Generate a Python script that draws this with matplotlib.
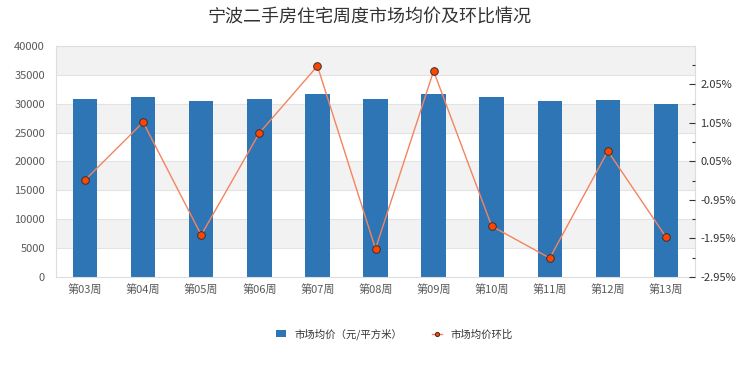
import numpy as np
import matplotlib
matplotlib.use('Agg')
import matplotlib.pyplot as plt
from matplotlib.ticker import FixedLocator, FuncFormatter

plt.rcParams['font.family'] = ['Noto Sans CJK SC', 'DejaVu Sans']

weeks = ['第03周', '第04周', '第05周', '第06周', '第07周', '第08周',
         '第09周', '第10周', '第11周', '第12周', '第13周']
avg_price = [30800, 31200, 30500, 30800, 31700, 30800, 31700, 31200, 30500, 30600, 30000]
mom_pct = [-0.43, 1.07, -1.86, 0.79, 2.53, -2.22, 2.40, -1.63, -2.46, 0.32, -1.91]

bar_color = '#2e75b6'
line_color = '#f4845f'
text_color = '#595959'

fig = plt.figure(figsize=(7.4, 3.7), dpi=100, facecolor='white')
ax = fig.add_axes([0.0757, 0.2514, 0.8635, 0.6243])
x = np.arange(len(weeks))

# alternating grey bands
for lo in range(5000, 40000, 10000):
    ax.axhspan(lo, lo + 5000, color='#f2f2f2', zorder=0, lw=0)
for y in range(5000, 40001, 5000):
    ax.axhline(y, color='#e3e3e3', lw=0.8, zorder=0.5)

ax.bar(x, avg_price, width=0.42, color=bar_color, zorder=2, label='市场均价（元/平方米）')
ax.set_xlim(-0.5, len(weeks) - 0.5)
ax.set_ylim(0, 40000)
ax.set_yticks(range(0, 40001, 5000))
ax.set_xticks(x)
ax.set_xticklabels(weeks)
ax.tick_params(axis='y', length=0, labelsize=8, labelcolor=text_color, pad=8)
ax.tick_params(axis='x', length=0, labelsize=8, labelcolor=text_color, pad=5)
for s in ax.spines.values():
    s.set_color('#dddddd')
    s.set_linewidth(0.8)

ax2 = ax.twinx()
ax2.plot(x, mom_pct, color=line_color, lw=1, marker='o', markersize=5.5,
         markerfacecolor='#ff4500', markeredgecolor='#333333', markeredgewidth=0.7,
         zorder=3, label='市场均价环比')
ax2.set_ylim(-2.95, 3.05)
ax2.yaxis.set_major_locator(FixedLocator([-2.95, -1.95, -0.95, 0.05, 1.05, 2.05]))
ax2.yaxis.set_minor_locator(FixedLocator([-2.45, -1.45, -0.45, 0.55, 1.55, 2.55]))
ax2.yaxis.set_major_formatter(FuncFormatter(lambda v, p: f'{v:.2f}%'))
ax2.tick_params(axis='y', which='major', direction='in', length=4, width=0.8,
                color='#333333', labelsize=8, labelcolor='#333333', pad=4)
ax2.tick_params(axis='y', which='minor', direction='in', length=2.5, width=0.8, color='#333333')
for s in ax2.spines.values():
    s.set_visible(False)

fig.suptitle('宁波二手房住宅周度市场均价及环比情况', fontsize=13,
             color='#333333', x=0.5, y=0.978)

h1, l1 = ax.get_legend_handles_labels()
h2, l2 = ax2.get_legend_handles_labels()
leg = fig.legend(h1 + h2, l1 + l2, loc='center', bbox_to_anchor=(0.533, 0.097), ncol=2,
                 frameon=False, fontsize=7.5, handlelength=1.0, handleheight=0.7,
                 columnspacing=2.8, handletextpad=0.8)
for t in leg.get_texts():
    t.set_color('#333333')
leg.legend_handles[1].set_markersize(3)

fig.savefig('out.png', dpi=100, facecolor='white')
